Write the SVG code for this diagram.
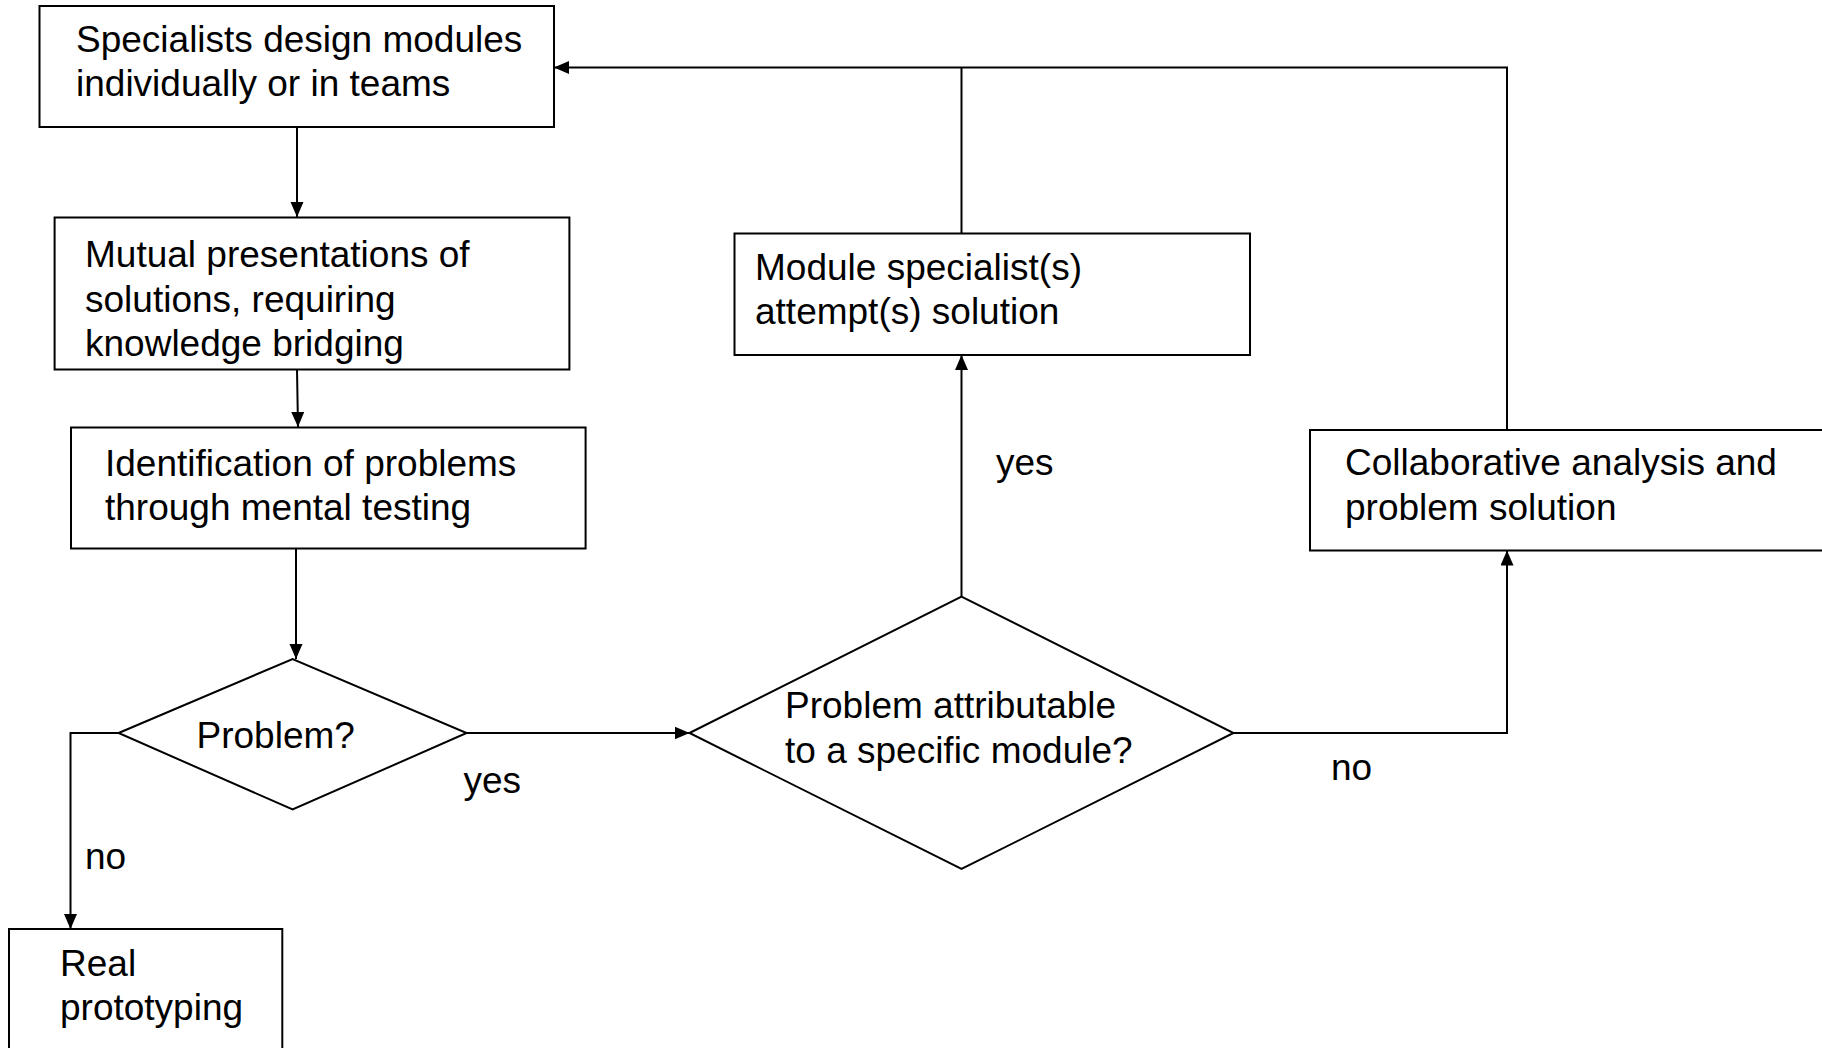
<svg xmlns="http://www.w3.org/2000/svg" width="1822" height="1048" viewBox="0 0 1822 1048">
<style>
  .box { fill: #fff; stroke: #000; stroke-width: 2; }
  .txt { font-family: "Liberation Sans", Arial, sans-serif; font-size: 37px; fill: #000; }
  .conn { fill: none; stroke: #000; stroke-width: 2; }
</style>
<defs>
  <marker id="arr" markerUnits="userSpaceOnUse" markerWidth="16" markerHeight="14" refX="15" refY="6.5" orient="auto">
    <path d="M0,0 L15,6.5 L0,13 z" fill="#000"/>
  </marker>
</defs>
<rect width="1822" height="1048" fill="#fff"/>
<g id="connectors">
  <path class="conn" d="M297,127 V217" marker-end="url(#arr)"/>
  <path class="conn" d="M297,369.5 L298,427" marker-end="url(#arr)"/>
  <path class="conn" d="M296,548.5 V659" marker-end="url(#arr)"/>
  <path class="conn" d="M118.6,733 H70.5 V929" marker-end="url(#arr)"/>
  <path class="conn" d="M466.6,733 H689.5" marker-end="url(#arr)"/>
  <path class="conn" d="M961.5,596.5 V355" marker-end="url(#arr)"/>
  <path class="conn" d="M961.5,233.5 V67.5"/>
  <path class="conn" d="M1507,430 V67.5 H554" marker-end="url(#arr)"/>
  <path class="conn" d="M1233.5,733 H1507 V550.5" marker-end="url(#arr)"/>
  <text class="txt" x="463.5" y="792.5">yes</text>
  <text class="txt" x="85" y="869">no</text>
  <text class="txt" x="996" y="475">yes</text>
  <text class="txt" x="1331" y="779.5">no</text>
</g>
<g id="n1">
  <rect class="box" x="39.5" y="6" width="514.5" height="121"/>
  <text class="txt" x="76" y="52">Specialists design modules</text>
  <text class="txt" x="76" y="96">individually or in teams</text>
</g>
<g id="n2">
  <rect class="box" x="54.6" y="217.5" width="514.8" height="152"/>
  <text class="txt" x="85" y="267">Mutual presentations of</text>
  <text class="txt" x="85" y="312">solutions, requiring</text>
  <text class="txt" x="85" y="356">knowledge bridging</text>
</g>
<g id="n3">
  <rect class="box" x="71" y="427.5" width="514.6" height="121"/>
  <text class="txt" x="105" y="476">Identification of problems</text>
  <text class="txt" x="105" y="520">through mental testing</text>
</g>
<g id="d1">
  <polygon class="box" points="118.6,733 292.6,659 466.6,733 292.6,809.5"/>
  <text class="txt" x="196.5" y="747.5">Problem?</text>
</g>
<g id="n4">
  <rect class="box" x="9" y="929" width="273.3" height="140"/>
  <text class="txt" x="60" y="976">Real</text>
  <text class="txt" x="60" y="1020">prototyping</text>
</g>
<g id="d2">
  <polygon class="box" points="689.5,733 961.5,596.5 1233.5,733 961.5,869"/>
  <text class="txt" x="785" y="718">Problem attributable</text>
  <text class="txt" x="785" y="762.5">to a specific module?</text>
</g>
<g id="n5">
  <rect class="box" x="734.5" y="233.5" width="515.5" height="121.5"/>
  <text class="txt" x="755" y="279.5">Module specialist(s)</text>
  <text class="txt" x="755" y="323.5">attempt(s) solution</text>
</g>
<g id="n6">
  <rect class="box" x="1310" y="430" width="530" height="120.5"/>
  <text class="txt" x="1345" y="474.5">Collaborative analysis and</text>
  <text class="txt" x="1345" y="519.5">problem solution</text>
</g>
</svg>
